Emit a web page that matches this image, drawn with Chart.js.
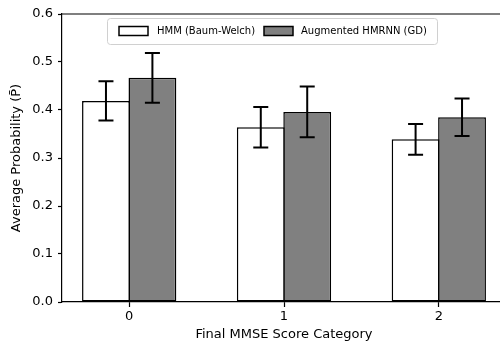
<!DOCTYPE html>
<html>
<head>
<meta charset="utf-8">
<script src="https://cdn.jsdelivr.net/npm/chart.js@4/dist/chart.umd.min.js"></script>
<style>
  html, body { margin: 0; padding: 0; background: #fff; overflow: hidden; width: 500px; height: 344px; }
  #wrap { position: relative; width: 512px; height: 344px; }
</style>
</head>
<body>
<div id="wrap"><canvas id="myChart" width="512" height="344"></canvas></div>
<script>
// data
const categories = ['0', '1', '2'];
const seriesNames = ['HMM (Baum-Welch)', 'Augmented HMRNN (GD)'];
const hmmValues = [0.419, 0.364, 0.339];
const hmmErrors = [0.041, 0.042, 0.032];
const gdValues = [0.467, 0.396, 0.385];
const gdErrors = [0.052, 0.053, 0.039];
const yTicks = [0.0, 0.1, 0.2, 0.3, 0.4, 0.5, 0.6];

const FONT = '"DejaVu Sans", sans-serif';

// error bars drawn on top of each bar
const errorBars = {
  id: 'errorBars',
  afterDatasetsDraw(chart) {
    const ctx = chart.ctx;
    const yScale = chart.scales.y;
    chart.data.datasets.forEach((ds, i) => {
      const meta = chart.getDatasetMeta(i);
      meta.data.forEach((bar, j) => {
        const v = ds.data[j].y;
        const e = ds.errors[j];
        const top = yScale.getPixelForValue(v + e);
        const bot = yScale.getPixelForValue(v - e);
        ctx.save();
        ctx.strokeStyle = '#000';
        ctx.lineWidth = 2;
        ctx.beginPath();
        ctx.moveTo(bar.x, top); ctx.lineTo(bar.x, bot);
        ctx.moveTo(bar.x - 7.5, top); ctx.lineTo(bar.x + 7.5, top);
        ctx.moveTo(bar.x - 7.5, bot); ctx.lineTo(bar.x + 7.5, bot);
        ctx.stroke();
        ctx.restore();
      });
    });
  }
};

// top and right spines, plus the in-plot legend
const frameAndLegend = {
  id: 'frameAndLegend',
  afterDraw(chart) {
    const ctx = chart.ctx;
    const a = chart.chartArea;
    ctx.save();
    ctx.strokeStyle = '#000';
    ctx.lineWidth = 1.2;
    ctx.beginPath();
    ctx.moveTo(a.left, a.top); ctx.lineTo(a.right, a.top); ctx.lineTo(a.right, a.bottom);
    ctx.stroke();

    // legend box
    const bx = 107.5, by = 18.5, bw = 330, bh = 26, r = 3;
    ctx.fillStyle = 'rgba(255,255,255,0.8)';
    ctx.strokeStyle = '#d0d0d0';
    ctx.lineWidth = 1;
    ctx.beginPath();
    ctx.roundRect(bx, by, bw, bh, r);
    ctx.fill();
    ctx.stroke();

    const items = [{ sx: 119, tx: 157 }, { sx: 264, tx: 301 }];
    ctx.font = '10px ' + FONT;
    ctx.textBaseline = 'middle';
    chart.data.datasets.forEach((ds, i) => {
      const it = items[i];
      ctx.fillStyle = ds.backgroundColor;
      ctx.strokeStyle = '#000';
      ctx.lineWidth = 1.5;
      ctx.fillRect(it.sx, 26.5, 29, 9);
      ctx.strokeRect(it.sx, 26.5, 29, 9);
      ctx.fillStyle = '#000';
      ctx.fillText(ds.label, it.tx, 31.5);
    });
    ctx.restore();
  }
};

const ctx = document.getElementById('myChart').getContext('2d');
new Chart(ctx, {
  type: 'bar',
  data: {
    datasets: [
      {
        label: seriesNames[0],
        data: hmmValues.map((v, i) => ({ x: i, y: v })),
        errors: hmmErrors,
        backgroundColor: '#ffffff',
        borderColor: '#000000',
        borderWidth: 1.5,
        borderSkipped: false,
        categoryPercentage: 0.6,
        barPercentage: 1.03,
      },
      {
        label: seriesNames[1],
        data: gdValues.map((v, i) => ({ x: i, y: v })),
        errors: gdErrors,
        backgroundColor: '#808080',
        borderColor: '#000000',
        borderWidth: 1.5,
        borderSkipped: false,
        categoryPercentage: 0.6,
        barPercentage: 1.03,
      },
    ],
  },
  options: {
    responsive: false,
    animation: false,
    layout: { padding: { left: 0, top: 14, right: 6, bottom: 0 } },
    plugins: { legend: { display: false }, tooltip: { enabled: false } },
    scales: {
      x: {
        type: 'linear',
        offset: false,
        min: -0.434,
        max: 2.434,
        afterBuildTicks: (s) => { s.ticks = categories.map((c, i) => ({ value: i })); },
        afterFit: (s) => { s.height = 42; },
        grid: { display: true, offset: false, drawOnChartArea: false, drawTicks: true, tickLength: 5, tickWidth: 1.2, tickColor: '#000' },
        border: { display: true, color: '#000', width: 1.2 },
        ticks: {
          color: '#000',
          padding: 2,
          font: { family: FONT, size: 13 },
          callback: (v) => categories[v],
        },
        title: {
          display: true,
          text: 'Final MMSE Score Category',
          color: '#000',
          font: { family: FONT, size: 13 },
          padding: { top: 0, bottom: 2 },
        },
      },
      y: {
        min: 0,
        max: 0.6,
        afterBuildTicks: (s) => { s.ticks = yTicks.map((v) => ({ value: v })); },
        afterFit: (s) => { s.width = 62; },
        grid: { display: true, drawOnChartArea: false, drawTicks: true, tickLength: 4, tickWidth: 1.2, tickColor: '#000' },
        border: { display: true, color: '#000', width: 1.2 },
        ticks: {
          color: '#000',
          padding: 5,
          font: { family: FONT, size: 13 },
          callback: (v) => v.toFixed(1),
        },
        title: {
          display: true,
          text: 'Average Probability (P\u0304)',
          color: '#000',
          font: { family: FONT, size: 13 },
          padding: { top: 9, bottom: 0 },
        },
      },
    },
  },
  plugins: [errorBars, frameAndLegend],
});
</script>
</body>
</html>
